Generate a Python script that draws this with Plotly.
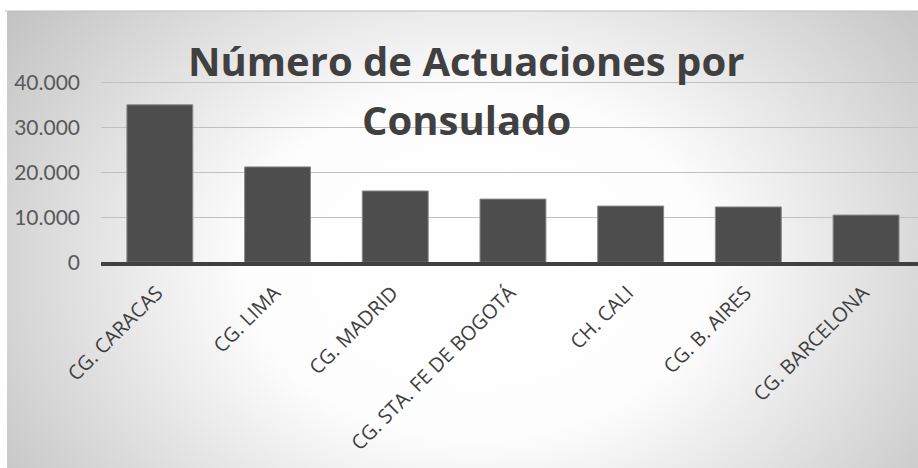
import plotly.graph_objects as go
import urllib.parse

W, H = 918, 468

categories = ["CG. CARACAS", "CG. LIMA", "CG. MADRID", "CG. STA. FE DE BOGOTÁ",
              "CH. CALI", "CG. B. AIRES", "CG. BARCELONA"]
actuaciones = [35000, 21200, 15850, 14050, 12500, 12300, 10500]
y_tickvals = [0, 10000, 20000, 30000, 40000]
y_ticktext = ["0", "10.000", "20.000", "30.000", "40.000"]
title_lines = ["Número de Actuaciones por", "Consulado"]

# chart frame in pixels
fx0, fy0 = 7, 11
fw, fh = W - fx0, H - fy0

svg = f'''<svg xmlns="http://www.w3.org/2000/svg" width="{fw}" height="{fh}" viewBox="0 0 {fw} {fh}" preserveAspectRatio="none">
<defs><radialGradient id="g" gradientUnits="userSpaceOnUse" cx="470" cy="255" r="580"
 gradientTransform="translate(470 255) scale(1 0.75) translate(-470 -255)">
<stop offset="0" stop-color="#ffffff"/><stop offset="0.4" stop-color="#fdfdfd"/>
<stop offset="1" stop-color="#c2c2c2"/></radialGradient></defs>
<rect x="0" y="0" width="{fw}" height="{fh}" fill="url(#g)"/></svg>'''
src = "data:image/svg+xml;charset=utf-8," + urllib.parse.quote(svg)

def px(x):
    return x / W

def py(y):
    return 1 - y / H

# plot area
plot_left, plot_right = 101, 918
zero_y, per_unit = 262.3, 180 / 40000
y_top_val = 40500
plot_top = zero_y - y_top_val * per_unit

spacing = 117.7
x_lo = -0.5
x_hi = (plot_right - plot_left) / spacing - 0.5

fig = go.Figure(go.Bar(
    x=categories, y=actuaciones,
    marker=dict(color="#4d4d4d", line=dict(color="#8a8a8a", width=1)),
    width=0.56,
))

fig.update_layout(
    width=W, height=H,
    margin=dict(l=0, r=0, t=0, b=0),
    paper_bgcolor="white",
    plot_bgcolor="rgba(0,0,0,0)",
    showlegend=False,
    font=dict(family="Lato", color="#595959"),
    images=[dict(source=src, xref="paper", yref="paper", x=px(fx0), y=py(fy0),
                 sizex=fw / W, sizey=fh / H, sizing="stretch", layer="below",
                 xanchor="left", yanchor="top")],
    shapes=[dict(type="line", xref="paper", yref="paper", x0=px(fx0 - 2), x1=1,
                 y0=py(fy0), y1=py(fy0), line=dict(color="#bdbdbd", width=1.2))],
    xaxis=dict(domain=[px(plot_left), 1], range=[x_lo, x_hi], automargin=False,
               tickangle=-45, tickfont=dict(size=20, color="#404040", family="Open Sans"),
               showline=True, linecolor="#404040", linewidth=4,
               showgrid=False, ticks="", ticklabelstandoff=7, ticklabelshift=-3),
    yaxis=dict(domain=[py(zero_y), py(plot_top)], range=[0, y_top_val], automargin=False,
               tickvals=y_tickvals, ticktext=y_ticktext,
               tickfont=dict(size=21, color="#595959"),
               showgrid=True, gridcolor="#c0c0c0", gridwidth=1,
               zeroline=False, showline=False, ticks="", ticklabelstandoff=20),
)

for i, (line, yc) in enumerate(zip(title_lines, [61, 119])):
    fig.add_annotation(text=line, xref="paper", yref="paper", x=px(466), y=py(yc),
                       xanchor="center", yanchor="middle", showarrow=False,
                       font=dict(family="Open Sans", size=40, color="#404040", weight="bold"))

fig.write_html("out.html", config={"displayModeBar": False},
               post_script="document.body.style.margin='0';")
